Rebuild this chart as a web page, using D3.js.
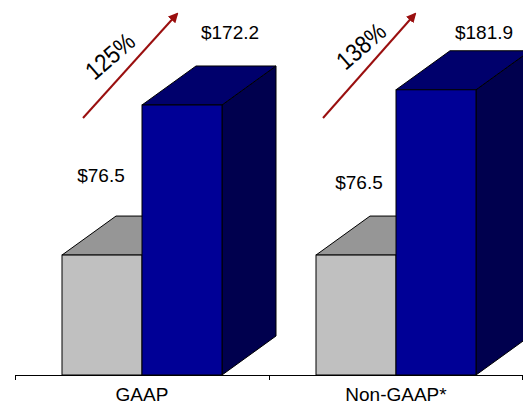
<!DOCTYPE html>
<html>
<head>
<meta charset="utf-8">
<script src="https://cdn.jsdelivr.net/npm/d3@7"></script>
<style>
  html, body { margin: 0; padding: 0; background: #fff; }
  svg { display: block; font-family: "Liberation Sans", Arial, sans-serif; }
</style>
</head>
<body>
<svg id="chart" width="523" height="407"></svg>
<script>
// Earnings comparison: prior vs current period, GAAP and Non-GAAP
const categories = ["GAAP", "Non-GAAP*"];
const series = ["prior", "current"];
const priorValues = [76.5, 76.5];
const currentValues = [172.2, 181.9];
const valueLabels = [["$76.5", "$172.2"], ["$76.5", "$181.9"]];
const growthLabels = ["125%", "138%"];

const W = 523, H = 407;
const baseY = 375;
const depth = { dx: 54, dy: -39 };

const colors = {
  prior:   { front: "#c0c0c0", top: "#969696", side: "#808080" },
  current: { front: "#000096", top: "#00006c", side: "#00004e" }
};

const svg = d3.select("#chart");

const x = d3.scaleBand().domain(categories).range([15, W]).padding(0);
const groupWidth = 160;
const y = d3.scaleLinear().domain([0, 200]).range([baseY, baseY - 313.6]);

const rows = categories.map((c, i) => ({
  category: c,
  values: [priorValues[i], currentValues[i]],
  labels: valueLabels[i],
  growth: growthLabels[i]
}));

// one 3D box: side, top, then front face
function drawBox(g, x0, w, v, col) {
  const yTop = y(v), yBot = y(0);
  const dx = depth.dx, dy = depth.dy;
  const line = d3.line();
  g.append("path")
    .attr("d", line([[x0 + w, yTop], [x0 + w + dx, yTop + dy], [x0 + w + dx, yBot + dy], [x0 + w, yBot]]) + "Z")
    .attr("fill", col.side).attr("stroke", "#000").attr("stroke-width", 1);
  g.append("path")
    .attr("d", line([[x0, yTop], [x0 + dx, yTop + dy], [x0 + w + dx, yTop + dy], [x0 + w, yTop]]) + "Z")
    .attr("fill", col.top).attr("stroke", "#000").attr("stroke-width", 1);
  g.append("rect")
    .attr("x", x0).attr("y", yTop).attr("width", w).attr("height", yBot - yTop)
    .attr("fill", col.front).attr("stroke", "#000").attr("stroke-width", 1);
}

const bars = svg.append("g");
rows.forEach(r => {
  const cx = x(r.category) + x.bandwidth() / 2;
  const inner = d3.scaleBand().domain(series).range([cx - groupWidth / 2, cx + groupWidth / 2]);
  const g = bars.append("g");
  series.forEach((s, j) => drawBox(g, inner(s), inner.bandwidth(), r.values[j], colors[s]));
});

// category axis
const axis = svg.append("g");
axis.append("line").attr("x1", 15).attr("x2", W).attr("y1", baseY + 0.5).attr("y2", baseY + 0.5)
  .attr("stroke", "#000").attr("stroke-width", 1);
const tickXs = categories.map(c => x(c)).concat([x(categories[categories.length - 1]) + x.bandwidth()]);
tickXs.forEach(t => {
  const tx = Math.min(Math.round(t) + 0.5, W - 0.5);
  axis.append("line").attr("x1", tx).attr("x2", tx).attr("y1", baseY).attr("y2", baseY + 5)
    .attr("stroke", "#000").attr("stroke-width", 1);
});
axis.selectAll("text.cat").data(categories).enter().append("text")
  .attr("class", "cat")
  .attr("x", d => x(d) + x.bandwidth() / 2)
  .attr("y", 401)
  .attr("text-anchor", "middle")
  .attr("font-size", 19)
  .attr("fill", "#000")
  .text(d => d);

// value labels, nudged per group
const labelNudge = [[{ dx: -1, dy: -73 }, { dx: 48, dy: -66 }], [{ dx: 3, dy: -66 }, { dx: 48, dy: -51 }]];
rows.forEach((r, i) => {
  const cx = x(r.category) + x.bandwidth() / 2;
  const inner = d3.scaleBand().domain(series).range([cx - groupWidth / 2, cx + groupWidth / 2]);
  series.forEach((s, j) => {
    svg.append("text")
      .attr("x", inner(s) + inner.bandwidth() / 2 + labelNudge[i][j].dx)
      .attr("y", y(r.values[j]) + labelNudge[i][j].dy)
      .attr("text-anchor", "middle")
      .attr("font-size", 19)
      .attr("fill", "#000")
      .text(r.labels[j]);
  });
});

// growth arrows with rotated percentages
const defs = svg.append("defs");
defs.append("marker")
  .attr("id", "head").attr("viewBox", "0 0 10 10").attr("refX", 8).attr("refY", 5)
  .attr("markerWidth", 5).attr("markerHeight", 5).attr("orient", "auto")
  .append("path").attr("d", "M0,0 L10,5 L0,10 Z").attr("fill", "#9a0f0f");

const arrowLayout = [
  { x1: -59, y1: 118, x2: 35, y2: 14, tx: -32, ty: 56 },
  { x1: -73, y1: 118, x2: 19, y2: 14, tx: -35, ty: 46 }
];
rows.forEach((r, i) => {
  const cx = x(r.category) + x.bandwidth() / 2;
  const a = arrowLayout[i];
  svg.append("line")
    .attr("x1", cx + a.x1).attr("y1", a.y1).attr("x2", cx + a.x2).attr("y2", a.y2)
    .attr("stroke", "#9a0f0f").attr("stroke-width", 2)
    .attr("marker-end", "url(#head)");
  svg.append("text")
    .attr("transform", `translate(${cx + a.tx},${a.ty}) rotate(-41) scale(0.88,1)`)
    .attr("text-anchor", "middle")
    .attr("dy", "0.35em")
    .attr("font-size", 25)
    .attr("fill", "#000")
    .text(r.growth);
});
</script>
</body>
</html>
